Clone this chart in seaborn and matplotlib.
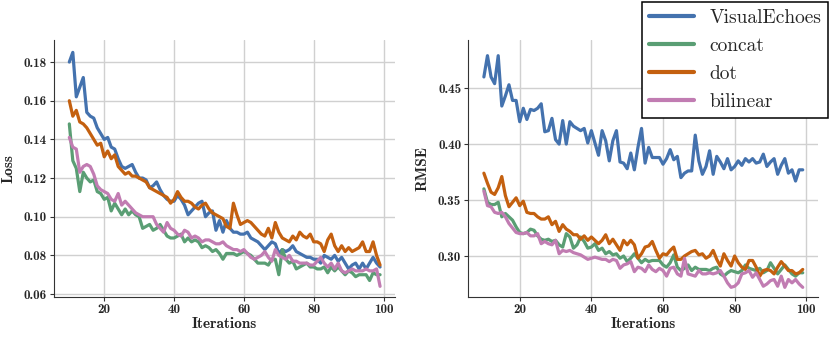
import numpy as np
import pandas as pd
import matplotlib
matplotlib.use('Agg')
import matplotlib.pyplot as plt
import seaborn as sns

# iterations 10..99
iterations = list(range(10, 100))
methods = ['VisualEchoes', 'concat', 'dot', 'bilinear']
colors = ['#4472AE', '#5A9E74', '#C4600F', '#C17CB2']

# Loss values
loss_visualechoes = [
    .180, .185, .162, .167, .172, .154, .152, .151, .146, .143,
    .140, .141, .136, .135, .130, .126, .125, .126, .127, .123,
    .120, .120, .119, .115, .116, .118, .114, .111, .109, .108,
    .108, .111, .109, .106, .101, .103, .105, .107, .108, .100,
    .102, .103, .093, .098, .092, .098, .094, .092, .092, .091,
    .091, .092, .089, .088, .087, .085, .083, .085, .087, .086,
    .081, .083, .082, .083, .085, .082, .081, .080, .079, .079,
    .078, .078, .076, .080, .079, .078, .080, .077, .079, .076,
    .073, .075, .076, .073, .076, .073, .076, .079, .076, .074]
loss_concat = [
    .148, .129, .125, .113, .123, .120, .118, .119, .113, .112,
    .109, .110, .103, .107, .104, .101, .104, .101, .103, .101,
    .100, .094, .095, .096, .093, .094, .096, .093, .090, .089,
    .089, .090, .091, .087, .089, .087, .088, .087, .084, .085,
    .084, .082, .083, .081, .078, .081, .081, .081, .080, .081,
    .082, .081, .080, .078, .076, .076, .076, .075, .078, .078,
    .070, .083, .078, .076, .077, .073, .074, .075, .076, .074,
    .074, .073, .073, .074, .071, .074, .072, .074, .072, .070,
    .072, .071, .069, .070, .070, .070, .067, .071, .070, .070]
loss_dot = [
    .160, .152, .155, .149, .148, .146, .143, .140, .137, .138,
    .131, .134, .130, .132, .126, .124, .122, .123, .121, .121,
    .120, .119, .118, .115, .114, .113, .112, .111, .110, .107,
    .109, .113, .110, .108, .108, .107, .105, .104, .106, .107,
    .104, .102, .101, .100, .099, .095, .094, .107, .101, .096,
    .097, .098, .097, .095, .093, .091, .090, .094, .089, .097,
    .092, .089, .088, .087, .090, .088, .092, .090, .089, .091,
    .087, .087, .086, .082, .088, .091, .085, .082, .085, .082,
    .084, .082, .083, .084, .087, .082, .082, .087, .080, .075]
loss_bilinear = [
    .141, .136, .135, .123, .126, .127, .126, .122, .116, .114,
    .113, .112, .109, .108, .112, .106, .108, .106, .104, .102,
    .101, .100, .100, .100, .100, .096, .094, .092, .097, .094,
    .093, .091, .090, .093, .092, .089, .090, .089, .087, .088,
    .088, .087, .086, .086, .087, .085, .084, .083, .083, .082,
    .083, .081, .079, .078, .079, .080, .082, .079, .077, .083,
    .080, .079, .078, .080, .077, .077, .076, .076, .076, .075,
    .075, .077, .079, .076, .074, .076, .073, .076, .072, .071,
    .072, .073, .072, .072, .072, .073, .072, .072, .073, .064]

# RMSE values
rmse_visualechoes = [
    .460, .479, .460, .454, .479, .434, .443, .453, .439, .439,
    .420, .432, .422, .431, .430, .432, .436, .411, .412, .423,
    .404, .400, .421, .400, .420, .416, .414, .412, .414, .401,
    .412, .401, .390, .412, .403, .385, .403, .412, .384, .383,
    .378, .392, .377, .397, .414, .383, .397, .388, .388, .388,
    .382, .387, .395, .386, .389, .370, .374, .376, .376, .408,
    .385, .373, .380, .394, .373, .389, .384, .378, .387, .377,
    .380, .385, .381, .387, .384, .387, .383, .384, .391, .380,
    .384, .387, .373, .381, .387, .374, .377, .367, .377, .377]
rmse_concat = [
    .360, .348, .346, .346, .348, .335, .338, .335, .332, .326,
    .321, .320, .321, .324, .323, .318, .315, .314, .315, .313,
    .314, .310, .308, .320, .317, .307, .310, .317, .313, .307,
    .308, .311, .305, .307, .302, .304, .301, .302, .298, .300,
    .295, .298, .302, .298, .294, .297, .295, .296, .296, .296,
    .292, .290, .294, .301, .290, .287, .289, .292, .287, .290,
    .288, .288, .288, .287, .289, .290, .284, .282, .285, .287,
    .286, .285, .287, .292, .289, .288, .287, .289, .285, .287,
    .294, .289, .284, .288, .292, .288, .284, .282, .285, .285]
rmse_dot = [
    .374, .365, .357, .355, .361, .371, .354, .344, .348, .352,
    .345, .349, .339, .338, .338, .335, .333, .333, .335, .328,
    .331, .322, .328, .324, .322, .319, .319, .315, .318, .314,
    .317, .314, .311, .314, .319, .311, .315, .310, .305, .314,
    .310, .314, .310, .298, .302, .308, .309, .313, .305, .298,
    .302, .301, .305, .308, .297, .297, .300, .302, .304, .305,
    .301, .302, .298, .300, .305, .297, .291, .302, .296, .291,
    .300, .294, .290, .288, .296, .296, .290, .282, .287, .288,
    .287, .284, .290, .295, .291, .287, .287, .284, .285, .288]
rmse_bilinear = [
    .358, .345, .344, .339, .338, .339, .335, .329, .325, .321,
    .320, .320, .321, .318, .318, .320, .311, .313, .311, .310,
    .314, .302, .305, .304, .305, .303, .302, .301, .299, .297,
    .298, .299, .298, .297, .297, .295, .297, .296, .289, .292,
    .293, .295, .286, .290, .289, .286, .292, .288, .286, .289,
    .287, .282, .289, .290, .284, .282, .298, .284, .283, .282,
    .287, .284, .284, .285, .284, .285, .287, .282, .276, .272,
    .273, .276, .284, .285, .287, .281, .285, .279, .273, .275,
    .278, .279, .273, .282, .272, .279, .276, .279, .275, .272]


def long_form(series):
    frames = []
    for name, vals in zip(methods, series):
        frames.append(pd.DataFrame({'Iterations': iterations, 'value': vals, 'method': name}))
    return pd.concat(frames, ignore_index=True)


loss_df = long_form([loss_visualechoes, loss_concat, loss_dot, loss_bilinear])
rmse_df = long_form([rmse_visualechoes, rmse_concat, rmse_dot, rmse_bilinear])

sns.set_style('whitegrid')
plt.rcParams['axes.unicode_minus'] = False
plt.rcParams['axes.edgecolor'] = '#333333'
plt.rcParams['grid.color'] = '#d0d0d0'

fig = plt.figure(figsize=(8.3, 3.39), dpi=100)
ax1 = fig.add_axes([0.065, 0.124, 0.411, 0.758])
ax2 = fig.add_axes([0.564, 0.124, 0.4217, 0.758])

palette = dict(zip(methods, colors))
for ax, df, ylab in [(ax1, loss_df, 'Loss'), (ax2, rmse_df, 'RMSE')]:
    sns.lineplot(data=df, x='Iterations', y='value', hue='method', hue_order=methods,
                 palette=palette, linewidth=2.3, ax=ax, legend=(ax is ax1))
    ax.set_xlim(5.6, 103.3)
    ax.set_xticks([20, 40, 60, 80, 100])
    ax.set_xlabel('Iterations', fontfamily='cmb10', fontsize=11, labelpad=1)
    ax.set_ylabel(ylab, fontfamily='cmb10', fontsize=11, labelpad=6)
    for lab in ax.get_xticklabels() + ax.get_yticklabels():
        lab.set_fontfamily('cmb10')
        lab.set_fontsize(9.5)
    ax.tick_params(axis='both', length=3, width=0.8, pad=2, color='#333333', bottom=True, left=True)
    sns.despine(ax=ax)
    ax.grid(True, linewidth=1.0)

ax1.set_ylim(0.0585, 0.1914)
ax1.set_yticks([0.06, 0.08, 0.10, 0.12, 0.14, 0.16, 0.18])
ax1.set_yticklabels(['0.06', '0.08', '0.10', '0.12', '0.14', '0.16', '0.18'], fontfamily='cmb10', fontsize=9.5)
ax2.set_ylim(0.2634, 0.493)
ax2.set_yticks([0.30, 0.35, 0.40, 0.45])
ax2.set_yticklabels(['0.30', '0.35', '0.40', '0.45'], fontfamily='cmb10', fontsize=9.5)

handles, labels = ax1.get_legend_handles_labels()
ax1.get_legend().remove()
leg = fig.legend(handles, labels, loc='upper right', bbox_to_anchor=(1.0, 1.0),
                 prop={'family': 'cmr10', 'size': 14}, frameon=True, fancybox=False,
                 edgecolor='black', framealpha=1, handlelength=2.3, borderaxespad=0.1,
                 labelspacing=0.52, borderpad=0.35)
leg.get_frame().set_linewidth(1.1)
for h in leg.get_lines():
    h.set_linewidth(3)

fig.savefig('out.png', dpi=100)
